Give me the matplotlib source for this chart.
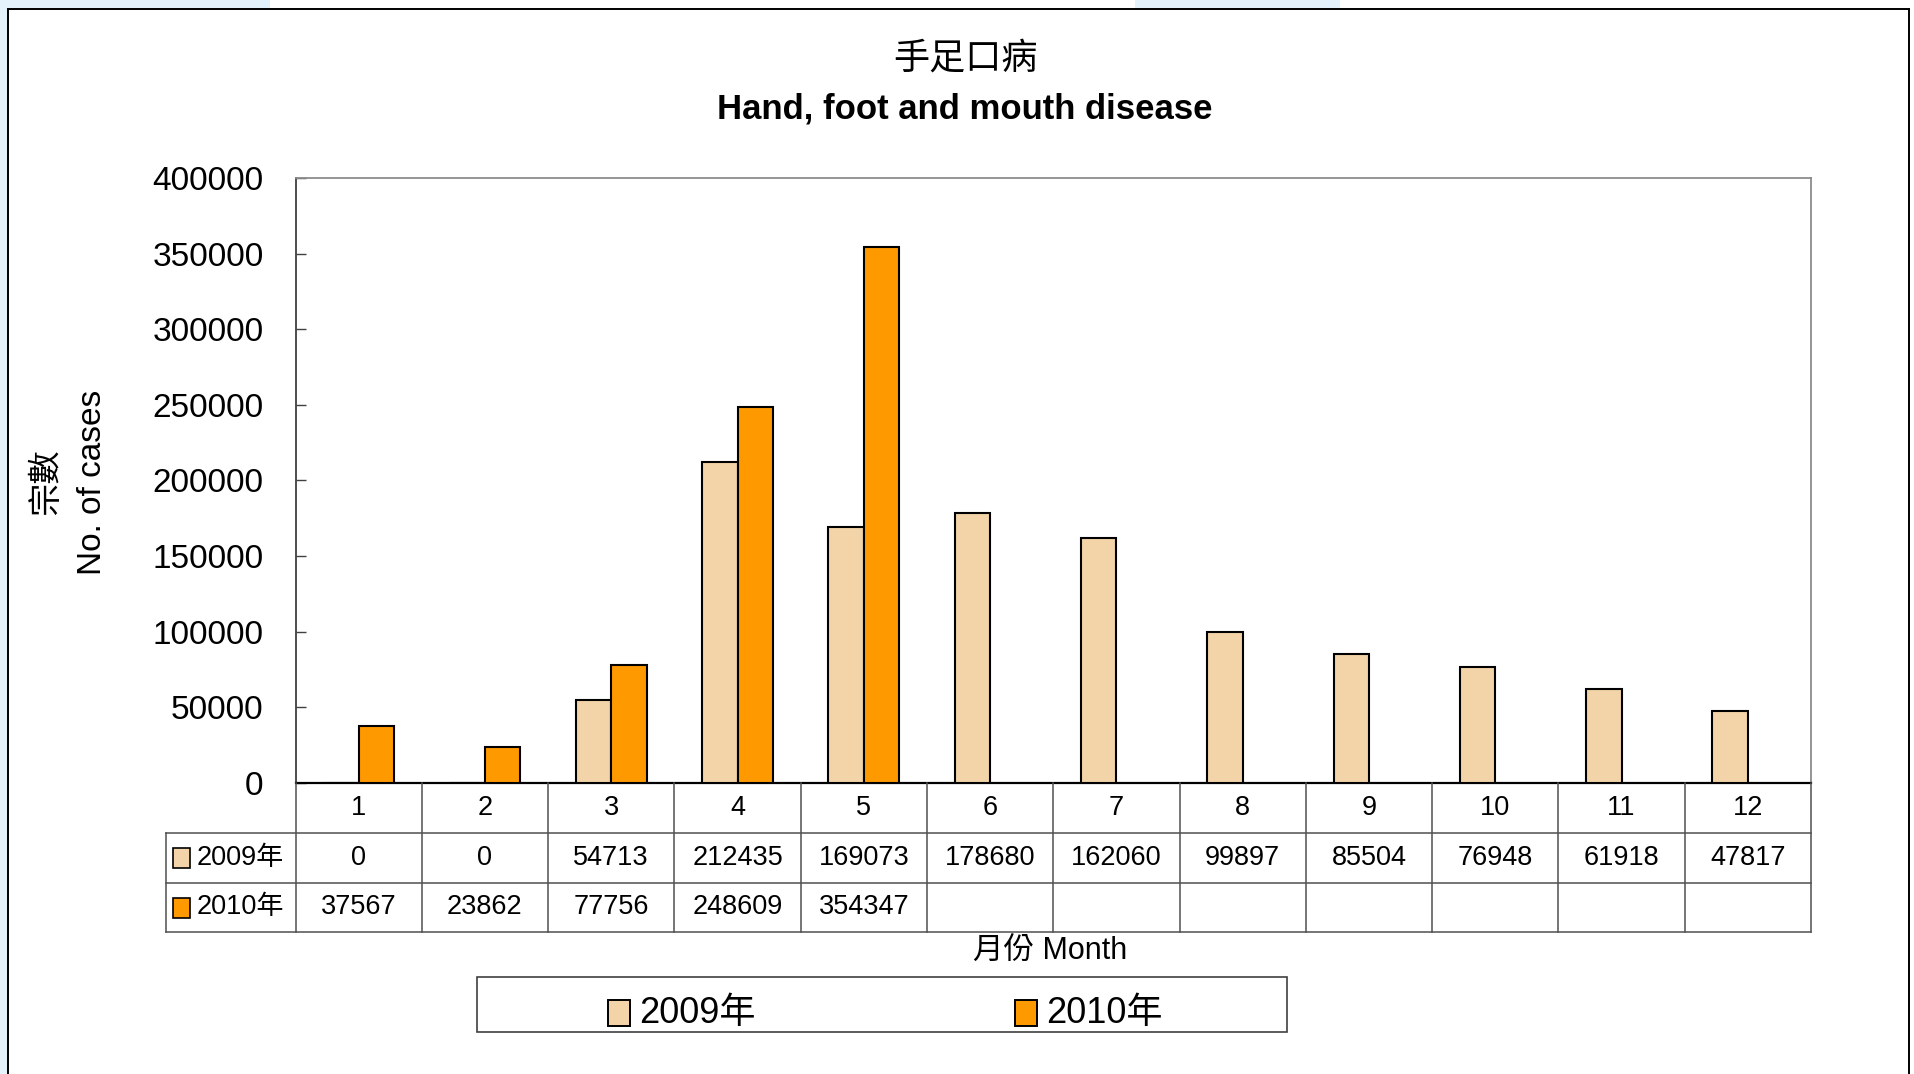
import matplotlib
matplotlib.use("Agg")
import matplotlib.pyplot as plt
import matplotlib.transforms as mtransforms
from matplotlib.patches import Rectangle
from matplotlib.lines import Line2D
import numpy as np

plt.rcParams["font.family"] = ["Liberation Sans", "Noto Sans CJK TC", "DejaVu Sans"]

# ---- data -------------------------------------------------------------
months = ["1", "2", "3", "4", "5", "6", "7", "8", "9", "10", "11", "12"]
series_names = ["2009年", "2010年"]
cases_2009 = [0, 0, 54713, 212435, 169073, 178680, 162060, 99897, 85504, 76948, 61918, 47817]
cases_2010 = [37567, 23862, 77756, 248609, 354347, None, None, None, None, None, None, None]
y_ticks = [0, 50000, 100000, 150000, 200000, 250000, 300000, 350000, 400000]

title_zh = "手足口病"
title_en = "Hand, foot and mouth disease"
ylabel_zh = "宗數"
ylabel_en = "No. of cases"
xlabel = "月份 Month"

color_2009 = "#f2d4a8"
color_2010 = "#ff9900"

# ---- figure -----------------------------------------------------------
W, H = 1915, 1074
fig = plt.figure(figsize=(W / 100, H / 100), dpi=100)
fig.patch.set_facecolor("white")


def fx(px):
    return px / W


def fy(py):
    return 1 - py / H


# pale slide background peeking around the frame
for (x0, y0, w, h) in [(0, 0, 8, H), (0, 0, 270, 9), (1135, 0, 205, 9)]:
    fig.add_artist(Rectangle((fx(x0), fy(y0 + h)), w / W, h / H, transform=fig.transFigure,
                             facecolor="#e3f2fb", edgecolor="none", zorder=0))
# outer frame
frame_kw = dict(transform=fig.transFigure, color="black", linewidth=1.4)
fig.add_artist(Line2D([fx(8), fx(8)], [0, fy(9)], **frame_kw))
fig.add_artist(Line2D([fx(8), fx(1909)], [fy(9), fy(9)], **frame_kw))
fig.add_artist(Line2D([fx(1909), fx(1909)], [fy(9), 0], **frame_kw))

# ---- bars -------------------------------------------------------------
ax = fig.add_axes([fx(295.5), fy(783), fx(1811 - 295.5), (783 - 178) / H])
x = np.arange(len(months))
bw = 0.28
ax.bar(x - bw / 2, cases_2009, bw, color=color_2009, edgecolor="black", linewidth=1.5, zorder=3)
idx10 = [i for i, v in enumerate(cases_2010) if v is not None]
ax.bar(x[idx10] + bw / 2, [cases_2010[i] for i in idx10], bw, color=color_2010,
       edgecolor="black", linewidth=1.5, zorder=3)

ax.set_xlim(-0.5, len(months) - 0.5)
ax.set_ylim(0, 400000)
ax.set_yticks(y_ticks)
ax.set_yticklabels([str(t) for t in y_ticks])
ax.set_xticks([])
ax.tick_params(axis="y", direction="in", length=7.5, width=1.0, labelsize=24, pad=23,
               color="#404040")
ax.spines["left"].set_color("#404040")
ax.spines["left"].set_linewidth(1.3)
for s in ("top", "right"):
    ax.spines[s].set_color("#8c8c8c")
    ax.spines[s].set_linewidth(1.3)
ax.spines["bottom"].set_color("black")
ax.spines["bottom"].set_linewidth(1.6)

# ---- data table under the axis -----------------------------------------
blend = mtransforms.blended_transform_factory(ax.transData, fig.transFigure)
rows_px = [783, 833, 883, 932]
rows = [fy(p) for p in rows_px]
grid_kw = dict(color="#505050", linewidth=1.1)

for xb in np.arange(len(months) + 1) - 0.5:
    fig.add_artist(Line2D([xb, xb], [rows[0], rows[3]], transform=blend, **grid_kw))
for yb in rows[1:]:
    fig.add_artist(Line2D([fx(166), fx(1811)], [yb, yb], transform=fig.transFigure, **grid_kw))
fig.add_artist(Line2D([fx(166), fx(166)], [rows[1], rows[3]], transform=fig.transFigure, **grid_kw))

cell_fs = 19.5
for i, m in enumerate(months):
    fig.text(i, (rows[0] + rows[1]) / 2, m, transform=blend, ha="center", va="center", fontsize=cell_fs)
    fig.text(i, (rows[1] + rows[2]) / 2, str(cases_2009[i]), transform=blend,
             ha="center", va="center", fontsize=cell_fs)
    if cases_2010[i] is not None:
        fig.text(i, (rows[2] + rows[3]) / 2, str(cases_2010[i]), transform=blend,
                 ha="center", va="center", fontsize=cell_fs)

for r, (name, col) in enumerate(zip(series_names, [color_2009, color_2010])):
    yc = (rows_px[r + 1] + rows_px[r + 2]) / 2
    fig.add_artist(Rectangle((fx(173), fy(yc + 10)), 17 / W, 20 / H, transform=fig.transFigure,
                             facecolor=col, edgecolor="black", linewidth=1.2))
    fig.text(fx(197), fy(yc), name, ha="left", va="center", fontsize=cell_fs)

# ---- titles and axis labels ---------------------------------------------
fig.text(fx(965), fy(59), title_zh, ha="center", va="center", fontsize=26)
fig.text(fx(965), fy(109), title_en, ha="center", va="center", fontsize=25, fontweight="bold")
fig.text(fx(46), fy(482), ylabel_zh, ha="center", va="center", rotation=90, fontsize=24)
fig.text(fx(93), fy(482), ylabel_en, ha="center", va="center", rotation=90, fontsize=24)
fig.text(fx(1050), fy(952), xlabel, ha="center", va="center", fontsize=22)

# ---- legend ------------------------------------------------------------
fig.add_artist(Rectangle((fx(477), fy(1032)), 810 / W, 55 / H, transform=fig.transFigure,
                         facecolor="white", edgecolor="#404040", linewidth=1.2))
for name, col, xs in zip(series_names, [color_2009, color_2010], [608, 1015]):
    fig.add_artist(Rectangle((fx(xs), fy(1026)), 22 / W, 26 / H, transform=fig.transFigure,
                             facecolor=col, edgecolor="black", linewidth=1.4))
    fig.text(fx(xs + 31), fy(1013), name, ha="left", va="center", fontsize=26)

fig.savefig("out.png", dpi=100)
